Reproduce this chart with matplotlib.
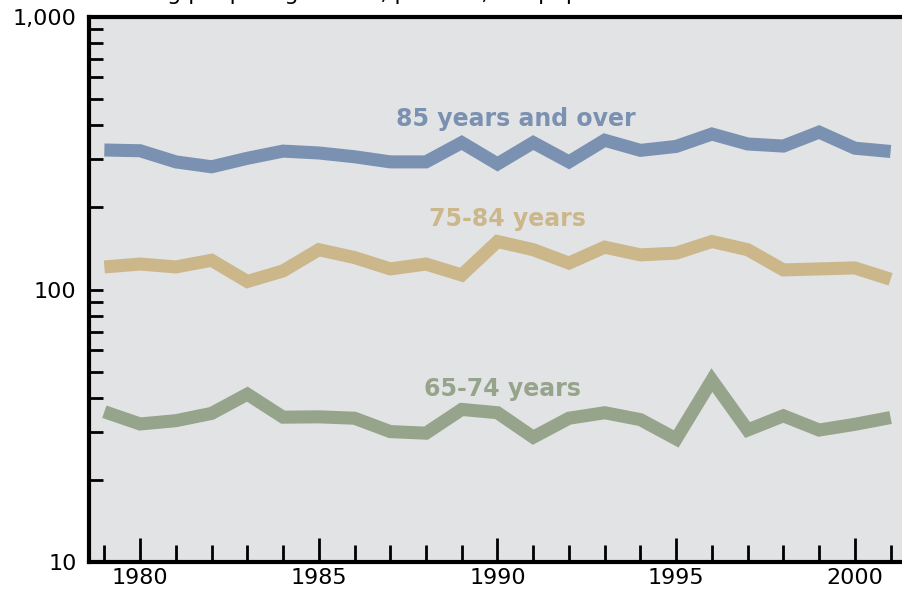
import matplotlib.pyplot as plt
import numpy as np
from matplotlib.ticker import FixedLocator, NullFormatter, LogLocator

years = list(range(1979, 2002))

# 85 years and over
over85 = [325, 323, 294, 282, 303, 322, 317, 307, 294, 294, 346, 289, 346, 294,
          353, 324, 335, 372, 342, 336, 378, 330, 321]
# 75-84 years
age75_84 = [121, 124, 121, 128, 107, 117, 140, 131, 119, 124, 113, 150, 140, 125,
            143, 134, 136, 150, 140, 118, 119, 120, 109]
# 65-74 years
age65_74 = [35.6, 32.1, 33.0, 35.1, 41.3, 34.0, 34.1, 33.7, 30.1, 29.7, 36.3, 35.3,
            28.7, 33.7, 35.3, 33.3, 28.3, 46.5, 30.5, 34.4, 30.5, 32.0, 33.9]

c_blue = '#7b91b2'
c_tan = '#ccb78a'
c_green = '#95a48a'

fig = plt.figure(figsize=(9.03, 5.92), dpi=100)
ax = fig.add_axes([89/903, 1-562/592, 1-89/903+0.01, (562-17)/592])
ax.set_facecolor('#e1e3e5')

for vals, col in [(over85, c_blue), (age75_84, c_tan), (age65_74, c_green)]:
    ax.plot(years, vals, color=col, lw=9.4, solid_joinstyle='miter',
            solid_capstyle='butt')

ax.set_yscale('log')
ax.set_ylim(10, 1000)
ax.set_xlim(1978.57, 2001.6)

ax.yaxis.set_major_locator(FixedLocator([10, 100, 1000]))
ax.set_yticklabels(['10', '100', '1,000'])
ax.yaxis.set_minor_locator(LogLocator(base=10, subs=np.arange(2, 10)))
ax.yaxis.set_minor_formatter(NullFormatter())

ax.set_xticks([1980, 1985, 1990, 1995, 2000])
ax.set_xticks(years, minor=True)

ax.tick_params(axis='y', which='both', direction='in', length=10, width=2,
               labelsize=16, pad=9)
ax.tick_params(axis='x', which='major', direction='in', length=17, width=2,
               labelsize=16, pad=4)
ax.tick_params(axis='x', which='minor', direction='in', length=12, width=2)

for s in ['left', 'bottom', 'top']:
    ax.spines[s].set_linewidth(3)
ax.spines['right'].set_visible(False)

ax.text(1990.52, 422, '85 years and over', color=c_blue, fontsize=17,
        fontweight='bold', ha='center', va='center')
ax.text(1990.27, 181, '75-84 years', color=c_tan, fontsize=17,
        fontweight='bold', ha='center', va='center')
ax.text(1990.13, 43.1, '65-74 years', color=c_green, fontsize=17,
        fontweight='bold', ha='center', va='center')

fig.text(0.02, 1.0, 'Deaths among people aged 65+, per 100,000 population',
         fontsize=16, ha='left', va='baseline')

fig.savefig('out.png', dpi=100)
